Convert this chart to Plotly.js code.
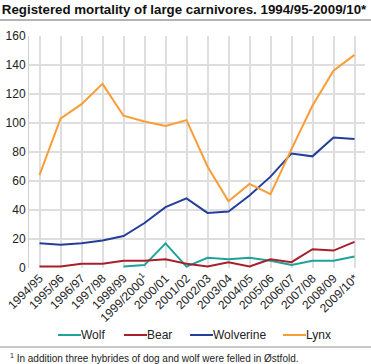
<!DOCTYPE html>
<html><head><meta charset="utf-8">
<script src="https://cdn.plot.ly/plotly-3.0.1.min.js"></script>
<style>html,body{margin:0;padding:0;background:#fff}#c{width:371px;height:364px}</style>
</head><body><div id="c"></div>
<script>
const seasons = ["1994/95","1995/96","1996/97","1997/98","1998/99","1999/2000<sup>1</sup>","2000/01","2001/02","2002/03","2003/04","2004/05","2005/06","2006/07","2007/08","2008/09","2009/10*"];
const wolf = [null,null,null,null,1,2,17,1,7,6,7,5,2,5,5,8];
const bear = [1,1,3,3,5,5,6,3,1,4,1,6,4,13,12,18];
const wolverine = [17,16,17,19,22,31,42,48,38,39,50,63,79,77,90,89];
const lynx = [64,103,113,127,105,101,98,102,70,46,58,51,82,112,136,147];
const seriesNames = ["Wolf","Bear","Wolverine","Lynx"];
const seriesColors = ["#1ea39c","#a81f2c","#243f99","#f99d36"];
const yTicks = [0,20,40,60,80,100,120,140,160];

const FONT = '"Liberation Sans", Arial, sans-serif';
const L = 29, R = 6, T = 36, B = 96, W = 371, H = 364;
const PW = W - L - R, PH = H - T - B;
const px = v => (v - L) / PW;
const py = v => (H - B - v) / PH;

const data = [wolf, bear, wolverine, lynx];
const traces = data.map((y, i) => ({type:'scatter', mode:'lines', name:seriesNames[i], x:seasons, y, line:{color:seriesColors[i], width:2}, connectgaps:false, showlegend:false}));

// custom legend placement (pixel positions)
const legLineX = [58,124,190,283];
const legY = 335;
const shapes = [
  {type:'line', xref:'paper', yref:'paper', x0:px(0), x1:px(371), y0:py(20), y1:py(20), line:{color:'#b5b5b5', width:2}},
  {type:'line', xref:'paper', yref:'paper', x0:px(0), x1:px(371), y0:py(347), y1:py(347), line:{color:'#b5b5b5', width:1.5}}
];
const annotations = [
  {xref:'paper', yref:'paper', x:px(8), y:py(358), xanchor:'left', yanchor:'middle', showarrow:false, text:'<sup>1</sup> In addition three hybrides of dog and wolf were felled in Østfold.', font:{family:FONT, size:10, color:'#222'}}
];
seriesNames.forEach((n, i) => {
  shapes.push({type:'line', xref:'paper', yref:'paper', x0:px(legLineX[i]), x1:px(legLineX[i]+23), y0:py(legY), y1:py(legY), line:{color:seriesColors[i], width:2}});
  annotations.push({xref:'paper', yref:'paper', x:px(legLineX[i]+21), y:py(legY), xanchor:'left', yanchor:'middle', showarrow:false, text:n, font:{family:FONT, size:12, color:'#222'}});
});

const layout = {
  width:W, height:H,
  margin:{l:L, r:R, t:T, b:B},
  paper_bgcolor:'#fff', plot_bgcolor:'#fff',
  font:{family:FONT, size:12, color:'#222'},
  title:{text:'<b>Registered mortality of large carnivores. 1994/95-2009/10*</b>', x:0.005, xref:'container', xanchor:'left', y:0.975, yref:'container', yanchor:'middle', font:{family:FONT, size:13.3, color:'#111'}},
  xaxis:{type:'category', range:[-0.5,15.5], showgrid:true, gridcolor:'#dedede', gridwidth:2, tickangle:-45, ticks:'', showline:false, zeroline:false, tickfont:{family:FONT, size:12, color:'#222'}, fixedrange:true},
  yaxis:{range:[0,160], tickvals:yTicks, showgrid:true, gridcolor:'#dedede', gridwidth:1.5, ticks:'', showline:true, linecolor:'#cfcfcf', linewidth:1, zeroline:false, tickfont:{family:FONT, size:12, color:'#222'}, fixedrange:true},
  showlegend:false,
  shapes, annotations
};
Plotly.newPlot('c', traces, layout, {displayModeBar:false, staticPlot:true});
</script></body></html>
